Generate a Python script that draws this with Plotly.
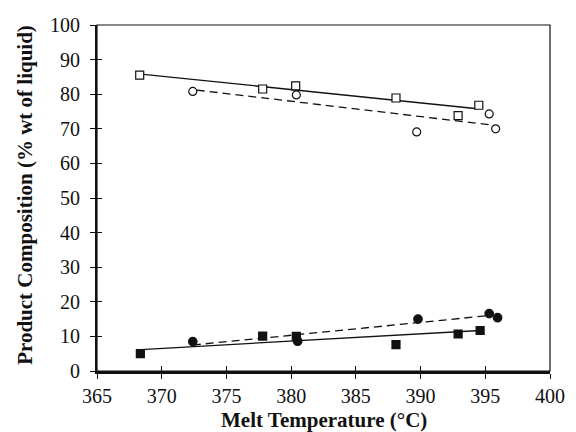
import plotly.graph_objects as go

# Measured product composition vs. melt temperature
temp_sq_open = [368.3, 377.8, 380.35, 388.1, 392.9, 394.5]
comp_sq_open = [85.5, 81.5, 82.4, 78.9, 73.8, 76.8]

temp_ci_open = [372.4, 380.4, 389.7, 395.3, 395.8]
comp_ci_open = [80.8, 79.8, 69.1, 74.3, 70.0]

temp_sq_fill = [368.35, 377.8, 380.4, 388.1, 392.9, 394.6]
comp_sq_fill = [5.0, 10.1, 10.0, 7.6, 10.7, 11.7]

temp_ci_fill = [372.4, 380.5, 389.8, 395.3, 395.95]
comp_ci_fill = [8.5, 8.6, 15.0, 16.6, 15.4]

# Trend line end points
trend_sq_open_x = [368.4, 394.4]
trend_sq_open_y = [85.8, 75.8]
trend_ci_open_x = [372.7, 395.5]
trend_ci_open_y = [81.2, 71.1]
trend_sq_fill_x = [368.4, 394.6]
trend_sq_fill_y = [6.2, 11.7]
trend_ci_fill_x = [372.4, 395.5]
trend_ci_fill_y = [7.5, 16.1]

x_ticks = [365, 370, 375, 380, 385, 390, 395, 400]
y_ticks = [0, 10, 20, 30, 40, 50, 60, 70, 80, 90, 100]

x_title = "Melt Temperature (°C)"
y_title = "Product Composition (% wt of liquid)"

FONT = "Liberation Serif"
BLACK = "#111111"

fig = go.Figure()

def add_line(xs, ys, dash):
    fig.add_trace(go.Scatter(x=xs, y=ys, mode="lines",
                             line=dict(color=BLACK, width=1.3, dash=dash),
                             showlegend=False, hoverinfo="skip"))

add_line(trend_sq_open_x, trend_sq_open_y, "solid")
add_line(trend_ci_open_x, trend_ci_open_y, "8px,5px")
add_line(trend_sq_fill_x, trend_sq_fill_y, "solid")
add_line(trend_ci_fill_x, trend_ci_fill_y, "8px,5px")

def add_pts(xs, ys, symbol, fill, size):
    fig.add_trace(go.Scatter(
        x=xs, y=ys, mode="markers", showlegend=False, cliponaxis=False,
        marker=dict(symbol=symbol, size=size, color=fill,
                    line=dict(color=BLACK, width=1.2))))

add_pts(temp_sq_open, comp_sq_open, "square", "white", 8)
add_pts(temp_ci_open, comp_ci_open, "circle", "white", 8)
add_pts(temp_sq_fill, comp_sq_fill, "square", BLACK, 8)
add_pts(temp_ci_fill, comp_ci_fill, "circle", BLACK, 8.5)

# invisible trace on the overlay axes so their inner ticks are drawn
fig.add_trace(go.Scatter(x=[365], y=[0], xaxis="x2", yaxis="y2", mode="markers",
                         marker=dict(opacity=0), showlegend=False, hoverinfo="skip"))

tickfont = dict(family=FONT, size=20, color=BLACK)
titlefont = dict(family=FONT, size=21, color=BLACK)

fig.update_layout(
    width=576, height=432,
    margin=dict(l=97, r=26, t=25, b=61),
    paper_bgcolor="white", plot_bgcolor="white",
    xaxis=dict(range=[365, 400], tickvals=x_ticks, ticks="outside", ticklen=5,
               tickwidth=1.3, tickcolor=BLACK, showline=True, linewidth=2.5,
               linecolor=BLACK, showgrid=False, zeroline=False, tickfont=tickfont,
               ticklabelstandoff=0, automargin=False),
    yaxis=dict(range=[0, 100], tickvals=y_ticks, ticks="outside", ticklen=5,
               tickwidth=1.3, tickcolor=BLACK, showline=True, linewidth=2,
               linecolor=BLACK, showgrid=False, zeroline=False, tickfont=tickfont,
               ticklabelstandoff=6, automargin=False),
    xaxis2=dict(range=[365, 400], tickvals=x_ticks, ticks="inside", ticklen=5,
                tickwidth=1.3, tickcolor=BLACK, showticklabels=False,
                showgrid=False, zeroline=False, overlaying="x", anchor="y2"),
    yaxis2=dict(range=[0, 100], tickvals=y_ticks, ticks="inside", ticklen=5,
                tickwidth=1.3, tickcolor=BLACK, showticklabels=False,
                showgrid=False, zeroline=False, overlaying="y", anchor="x2"),
    shapes=[dict(type="rect", xref="x domain", yref="y domain", x0=0, x1=1,
                 y0=0, y1=1, line=dict(color=BLACK, width=1.2), layer="below")],
    annotations=[
        dict(text=f"<b>{x_title}</b>", xref="paper", yref="paper",
             x=0.5, y=-0.1416, xanchor="center", yanchor="middle",
             showarrow=False, font=titlefont),
        dict(text=f"<b>{y_title}</b>", xref="paper", yref="paper",
             x=-0.159, y=0.509, xanchor="center", yanchor="middle",
             textangle=-90, showarrow=False, font=titlefont),
    ],
)

fig.write_html("out.html")
